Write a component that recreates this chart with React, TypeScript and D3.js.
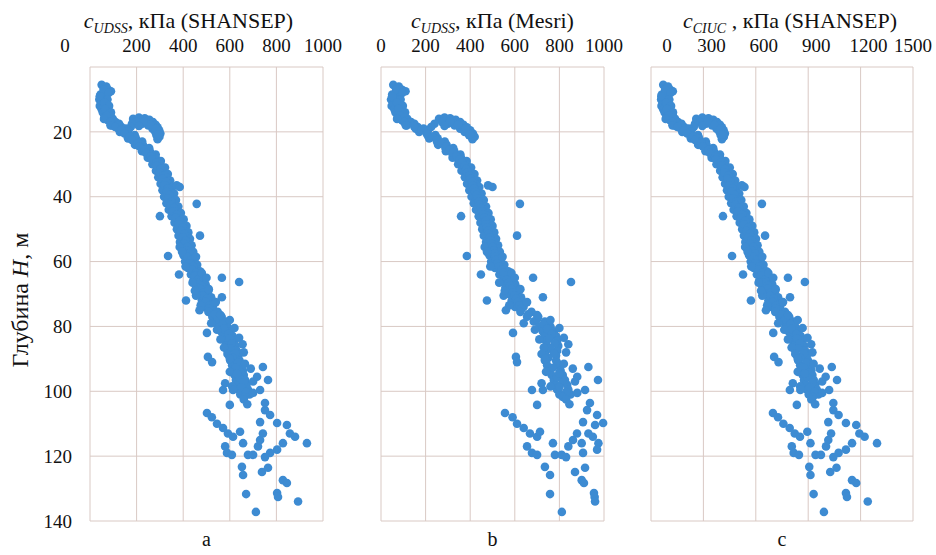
import React from 'react'
import * as d3 from 'd3'

// глубина, м (общая для всех трёх графиков)
const depth = [
  // верхняя часть
  5.5, 6.5, 7, 7.5, 8, 8.5, 9, 9.5, 10, 10.5, 11, 11.5, 12, 12.5, 13, 13.5, 14, 14.5, 15, 15.5, 16, 16.5, 17, 17.5, 18, 18.5,
  6, 7, 8, 9, 10, 11, 12, 13, 14, 15, 16, 17,
  // "крючок" у 20 м
  16, 15.6, 15.8, 16.3, 17, 17.8, 18.6, 19.5, 20.5, 21.5, 22.3, 17, 17.5, 18, 19, 20, 21, 17.5, 18.5, 19.5,
  16.8, 17.8, 19, 18.2, 20.8,
  // основная полоса
  18, 18, 19, 19, 20, 20, 21, 21, 22, 22, 23, 23, 24, 24, 25, 25, 26, 26, 27, 27,
  28, 28, 29, 29, 30, 30, 31, 31, 32, 32, 33, 33, 34, 34, 35, 35, 36, 36, 37, 37,
  38, 38, 39, 39, 40, 40, 41, 41, 42, 42, 43, 43, 44, 44, 45, 45, 46, 46, 47, 47,
  48, 48, 49, 49, 50, 50, 51, 51, 52, 52, 53, 53, 54, 54, 55, 55, 56, 56, 57, 57,
  58, 58, 59, 59, 60, 60, 61, 61, 62, 62, 63, 63, 64, 64, 65, 65, 66, 66, 67, 67,
  68, 68, 69, 69, 70, 70, 71, 71, 72, 72, 73, 73, 74, 74,
  18.5, 19.5, 20.5, 21.5, 22.5, 23.5, 24.5, 25.5, 26.5, 27.5, 28.5, 29.5, 30.5, 31.5, 32.5, 33.5, 34.5, 35.5, 36.5, 37.5,
  38.5, 39.5, 40.5, 41.5, 42.5, 43.5, 44.5, 45.5, 46.5, 47.5, 48.5, 49.5, 50.5, 51.5, 52.5, 53.5, 54.5, 55.5, 56.5, 57.5,
  58.5, 59.5, 60.5, 61.5, 62.5, 63.5, 64.5, 65.5, 66.5, 67.5, 68.5, 69.5, 70.5, 71.5, 72.5, 73.5, 74.5,
  55.5, 58.5, 61.5, 63.5, 66.5, 68.5, 70.5, 72.5, 57, 65, 69, 73.5,
  75.5, 75.5, 77, 77, 78.5, 78.5, 80, 80, 81.5, 81.5, 83, 83, 84.5, 84.5, 86, 86, 87.5, 87.5,
  89, 89, 90.5, 90.5, 92, 92, 93.5, 93.5, 95, 95, 96.5, 96.5, 98, 98, 99.5, 99.5, 101, 101,
  76.25, 77.75, 79.25, 80.75, 82.25, 83.75, 85.25, 86.75, 88.25, 89.75, 91.25, 92.75, 94.25, 95.75, 97.25, 98.75, 100.25, 101.75,
  75, 76.5, 78, 79, 80.5, 81, 83.5, 84, 85.5, 86.5, 88, 88.5, 90, 91.5, 93, 94, 97, 98.5, 100.5, 97.5,
  // отдельные точки
  42.2, 46, 52, 58.3, 64, 65, 66.3, 71, 72,
  82, 89.4, 91, 99.6, 99.6, 99.6, 92.5, 96.5, 95.5, 94.5,
  // нижнее облако
  106.7, 108, 110, 111.3, 113, 114, 112.5, 117, 119, 119.6, 116, 119.6, 119.6, 117, 115, 113, 109.5, 105.8, 103.6, 107.3,
  109.8, 110.4, 113, 114, 116, 116, 118, 119, 120.3, 123.3, 125.8, 124.9, 123.6, 127.4, 128.3, 131.7, 131.4, 132.6, 134, 137.2,
  36.5, 37, 102.5, 104, 104.2,
]

// c_UDSS, кПа (SHANSEP)
const cuShansep = [
  50, 62, 78, 90, 58, 45, 68, 52, 40, 60, 48, 72, 42, 58, 50, 78, 55, 70, 88, 62, 98, 78, 110, 125, 95, 135,
  70, 58, 80, 42, 75, 62, 82, 65, 90, 72, 60, 88,
  185, 210, 235, 255, 270, 282, 290, 297, 302, 298, 290, 200, 225, 250, 268, 280, 285, 180, 175, 165,
  230, 260, 285, 210, 292,
  88, 122, 122, 154, 128, 162, 160, 192, 163, 197, 192, 224, 193, 227, 222, 254, 223, 257, 250, 282,
  248, 282, 272, 304, 268, 302, 290, 322, 283, 317, 302, 334, 293, 327, 312, 344, 303, 337, 321, 353,
  311, 345, 329, 361, 318, 352, 337, 369, 328, 362, 347, 379, 338, 372, 358, 390, 350, 384, 370, 402,
  363, 397, 382, 414, 373, 407, 390, 422, 380, 414, 397, 429, 386, 420, 404, 436, 393, 427, 411, 443,
  401, 435, 419, 451, 408, 442, 428, 460, 420, 454, 440, 472, 433, 467, 452, 484, 443, 477, 464, 496,
  456, 490, 476, 508, 468, 502, 488, 520, 480, 514, 500, 532, 493, 527,
  108, 135, 148, 172, 180, 205, 212, 236, 240, 262, 266, 286, 287, 302, 300, 316, 312, 326, 320, 334,
  330, 342, 336, 350, 346, 360, 356, 372, 368, 384, 380, 396, 390, 404, 398, 410, 404, 418, 411, 425,
  418, 433, 426, 442, 438, 454, 450, 466, 461, 478, 474, 490, 486, 502, 498, 514, 510,
  385, 455, 410, 480, 440, 510, 455, 540, 395, 500, 450, 475,
  508, 548, 525, 565, 540, 580, 550, 590, 562, 602, 572, 612, 580, 620, 585, 625, 590, 630,
  597, 637, 602, 642, 610, 650, 616, 656, 620, 660, 626, 666, 632, 672, 638, 678, 645, 685,
  535, 548, 570, 575, 595, 598, 608, 602, 625, 612, 635, 625, 648, 640, 660, 650, 670, 662,
  470, 560, 600, 520, 620, 545, 640, 560, 655, 575, 660, 590, 600, 665, 690, 600, 700, 610, 700, 580,
  458, 300, 472, 335, 382, 566, 640, 566, 412,
  502, 506, 524, 571, 614, 730, 742, 764, 717, 631,
  502, 523, 545, 571, 592, 614, 644, 580, 588, 609, 657, 678, 700, 721, 730, 742, 730, 751, 751, 773,
  803, 845, 858, 880, 931, 828, 803, 773, 751, 652, 657, 738, 764, 828, 845, 670, 803, 807, 893, 712,
  372, 385, 660, 675, 600,
]

// c_UDSS, кПа (Mesri)
const cuMesri = [
  55, 72, 95, 110, 68, 50, 80, 60, 45, 70, 55, 85, 48, 68, 60, 92, 65, 85, 105, 75, 118, 95, 135, 150, 115, 165,
  80, 68, 95, 50, 88, 72, 98, 78, 108, 86, 72, 105,
  260, 285, 310, 335, 355, 370, 385, 400, 412, 420, 410, 275, 300, 330, 355, 375, 395, 240, 225, 210,
  310, 345, 380, 285, 400,
  111, 149, 156, 191, 171, 209, 209, 244, 216, 254, 251, 286, 256, 294, 289, 324, 291, 329, 321, 356,
  321, 359, 349, 384, 346, 384, 369, 404, 361, 399, 384, 419, 376, 414, 396, 431, 386, 424, 406, 441,
  396, 434, 416, 451, 406, 444, 426, 461, 416, 454, 436, 471, 426, 464, 447, 482, 438, 476, 457, 492,
  446, 484, 465, 500, 454, 492, 473, 508, 461, 499, 481, 516, 471, 509, 490, 525, 479, 517, 498, 533,
  486, 524, 505, 540, 494, 532, 518, 553, 511, 549, 536, 571, 531, 569, 554, 589, 546, 584, 567, 602,
  558, 596, 579, 614, 571, 609, 593, 628, 586, 624, 608, 643, 601, 639,
  150, 182, 205, 230, 250, 272, 290, 308, 322, 338, 352, 364, 374, 382, 389, 396, 402, 408, 412, 418,
  422, 428, 432, 438, 442, 448, 453, 459, 464, 468, 472, 476, 480, 483, 488, 492, 497, 501, 505, 508,
  512, 516, 522, 531, 540, 550, 559, 566, 573, 579, 585, 591, 598, 606, 613, 621, 630,
  465, 545, 490, 585, 530, 625, 550, 655, 475, 600, 555, 575,
  625, 675, 655, 705, 685, 735, 710, 760, 725, 775, 735, 785, 740, 790, 745, 795, 740, 790,
  735, 785, 735, 785, 745, 795, 755, 805, 765, 815, 775, 825, 785, 835, 790, 840, 800, 850,
  660, 700, 730, 745, 765, 755, 780, 760, 775, 750, 790, 770, 800, 790, 815, 800, 830, 815,
  560, 700, 760, 640, 800, 690, 820, 710, 840, 730, 830, 720, 735, 820, 860, 740, 870, 760, 880, 720,
  623, 359, 610, 385, 448, 682, 852, 726, 475,
  592, 605, 610, 677, 726, 915, 930, 973, 880, 800,
  556, 590, 610, 640, 668, 700, 713, 655, 677, 700, 771, 780, 810, 840, 861, 879, 906, 924, 937, 969,
  996, 960, 930, 950, 975, 900, 969, 906, 830, 735, 758, 870, 915, 900, 910, 758, 955, 958, 960, 811,
  480, 500, 830, 845, 700,
]

// c_CIUC, кПа (SHANSEP)
const ciucShansep = [
  70, 88, 110, 125, 82, 62, 95, 75, 58, 84, 68, 100, 60, 82, 70, 110, 78, 98, 125, 88, 138, 110, 155, 175, 135, 190,
  98, 81, 112, 59, 105, 87, 115, 91, 126, 101, 84, 123,
  259, 294, 329, 357, 378, 395, 406, 416, 423, 417, 406, 280, 315, 350, 375, 392, 399, 252, 245, 231,
  322, 364, 399, 294, 409,
  123, 171, 171, 216, 179, 227, 224, 269, 228, 276, 269, 314, 270, 318, 311, 356, 312, 360, 350, 395,
  347, 395, 381, 426, 375, 423, 406, 451, 396, 444, 423, 468, 410, 458, 437, 482, 424, 472, 449, 494,
  435, 483, 461, 505, 445, 493, 472, 517, 459, 507, 486, 531, 473, 521, 501, 546, 490, 538, 518, 563,
  508, 556, 535, 580, 522, 570, 546, 591, 532, 580, 556, 601, 540, 588, 566, 610, 550, 598, 575, 620,
  561, 609, 587, 631, 571, 619, 599, 644, 588, 636, 616, 661, 606, 654, 633, 678, 620, 668, 650, 694,
  638, 686, 666, 711, 655, 703, 683, 728, 672, 720, 700, 745, 690, 738,
  151, 189, 207, 241, 252, 287, 297, 330, 336, 367, 372, 400, 402, 423, 420, 442, 437, 456, 448, 468,
  462, 479, 470, 490, 484, 504, 498, 521, 515, 538, 532, 554, 546, 566, 557, 574, 566, 585, 575, 595,
  585, 606, 596, 619, 613, 636, 630, 652, 645, 669, 664, 686, 680, 703, 697, 720, 714,
  539, 637, 574, 672, 616, 714, 637, 756, 553, 700, 630, 665,
  711, 767, 735, 791, 756, 812, 770, 826, 787, 843, 801, 857, 812, 868, 819, 875, 826, 882,
  836, 892, 843, 899, 854, 910, 862, 918, 868, 924, 876, 932, 885, 941, 893, 949, 903, 959,
  749, 767, 798, 805, 833, 837, 851, 843, 875, 857, 889, 875, 907, 896, 924, 910, 938, 927,
  658, 784, 840, 728, 868, 763, 896, 784, 917, 805, 924, 826, 840, 931, 966, 840, 980, 854, 980, 812,
  635, 412, 653, 464, 527, 784, 881, 796, 572,
  700, 705, 730, 795, 855, 1020, 1035, 1065, 1000, 880,
  698, 727, 758, 794, 823, 853, 895, 806, 817, 847, 913, 942, 973, 1002, 1015, 1031, 1015, 1044, 1044, 1074,
  1116, 1175, 1193, 1223, 1294, 1151, 1116, 1074, 1044, 906, 913, 1026, 1062, 1151, 1175, 931, 1116, 1122, 1241, 990,
  520, 535, 918, 940, 835,
]

const depthTicks = [0, 20, 40, 60, 80, 100, 120, 140]
const ticksA = [0, 200, 400, 600, 800, 1000]
const ticksC = [0, 300, 600, 900, 1200, 1500]

const FONT = "'Liberation Serif', 'DejaVu Serif', serif"
const TOP = 67
const BOTTOM = 521
const GRID = '#d9c9c4'
const DOT = '#3d8bd2'
const INK = '#111'

const panels = [
  { key: 'a', values: cuShansep, ticks: ticksA, x0: 90, x1: 323, sub: 'UDSS', rest: ', кПа (SHANSEP)', titleDx: -18, zeroDx: -25, labelDx: 0 },
  { key: 'b', values: cuMesri, ticks: ticksA, x0: 381, x1: 604, sub: 'UDSS', rest: ', кПа (Mesri)', titleDx: 0, zeroDx: 0, labelDx: 0 },
  { key: 'c', values: ciucShansep, ticks: ticksC, x0: 651, x1: 913, sub: 'CIUC', rest: ' , кПа (SHANSEP)', titleDx: 8, zeroDx: 16, labelDx: 8 },
]

const y = d3.scaleLinear().domain([0, 140]).range([TOP, BOTTOM])

const Panel = ({ p }) => {
  const max = p.ticks[p.ticks.length - 1]
  const x = d3.scaleLinear().domain([0, max]).range([p.x0, p.x1])
  const mid = (p.x0 + p.x1) / 2
  return (
    <g>
      {depthTicks.map((t) => (
        <line key={'h' + t} x1={p.x0} x2={p.x1} y1={y(t)} y2={y(t)} stroke={GRID} strokeWidth={1} />
      ))}
      {p.ticks.map((t) => (
        <line key={'v' + t} x1={x(t)} x2={x(t)} y1={TOP} y2={BOTTOM} stroke={GRID} strokeWidth={1} />
      ))}
      {p.ticks.map((t, i) => (
        <text key={'t' + t} x={x(t) + (i === 0 ? p.zeroDx : i === p.ticks.length - 1 ? 0 : p.labelDx)} y={52}
          textAnchor="middle" fontFamily={FONT} fontSize={19} fill={INK}>{t}</text>
      ))}
      <text x={mid + p.titleDx} y={28} textAnchor="middle" fontFamily={FONT} fontSize={22} fill={INK}>
        <tspan fontStyle="italic">c</tspan>
        <tspan fontStyle="italic" fontSize={14} dy={5}>{p.sub}</tspan>
        <tspan dy={-5}>{p.rest}</tspan>
      </text>
      {depth.map((d, i) => (
        <circle key={i} cx={x(p.values[i])} cy={y(d)} r={4.3} fill={DOT} />
      ))}
      <text x={mid} y={546} textAnchor="middle" fontFamily={FONT} fontSize={20} fill={INK}>{p.key}</text>
    </g>
  )
}

const App = () => {
  return (
    <svg width={936} height={555} style={{ position: 'absolute', left: 0, top: 0, background: '#fff' }}>
      {depthTicks.slice(1).map((t) => (
        <text key={t} x={72} y={y(t)} dy="0.35em" textAnchor="end" fontFamily={FONT} fontSize={19} fill={INK}>{t}</text>
      ))}
      <text transform="translate(28,300) rotate(-90)" textAnchor="middle" fontFamily={FONT} fontSize={24} fill={INK}>
        Глубина <tspan fontStyle="italic">H</tspan>, м
      </text>
      {panels.map((p) => <Panel key={p.key} p={p} />)}
    </svg>
  )
}

export default App
